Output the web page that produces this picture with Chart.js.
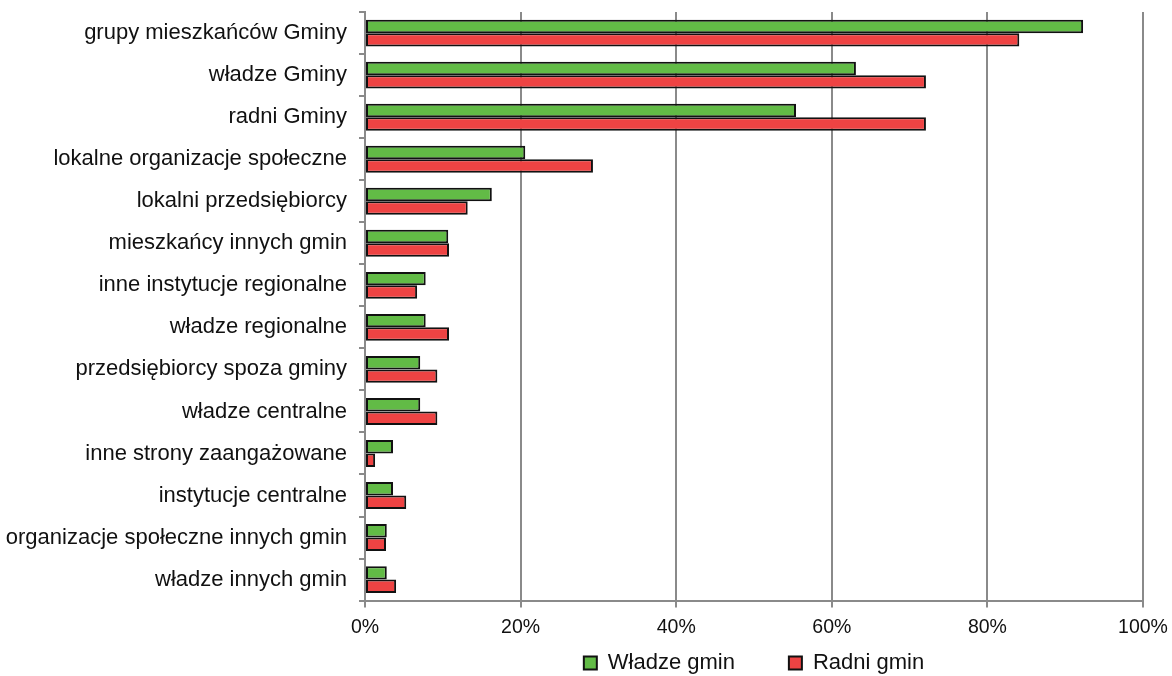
<!DOCTYPE html>
<html>
<head>
<meta charset="utf-8">
<script src="https://cdn.jsdelivr.net/npm/chart.js@4.4.1/dist/chart.umd.min.js"></script>
<style>
  html, body { margin: 0; padding: 0; background: #fff; }
  #wrap { width: 1172px; height: 676px; }
</style>
</head>
<body>
<div id="wrap"><canvas id="c" width="1172" height="676"></canvas></div>
<script>
// kategorie i wartości (%)
const categories = [
  "grupy mieszkańców Gminy",
  "władze Gminy",
  "radni Gminy",
  "lokalne organizacje społeczne",
  "lokalni przedsiębiorcy",
  "mieszkańcy innych gmin",
  "inne instytucje regionalne",
  "władze regionalne",
  "przedsiębiorcy spoza gminy",
  "władze centralne",
  "inne strony zaangażowane",
  "instytucje centralne",
  "organizacje społeczne innych gmin",
  "władze innych gmin"
];
const wladzeGmin = [92.3, 63.1, 55.4, 20.6, 16.3, 10.7, 7.8, 7.8, 7.1, 7.1, 3.6, 3.6, 2.8, 2.8];
const radniGmin  = [84.1, 72.1, 72.1, 29.3, 13.2, 10.8, 6.7, 10.8, 9.3, 9.3, 1.3, 5.3, 2.7, 4.0];
const xTicks = [0, 20, 40, 60, 80, 100];

const FONT = "'Liberation Sans', Arial, sans-serif";

new Chart(document.getElementById("c").getContext("2d"), {
    type: "bar",
    data: {
        labels: categories,
        datasets: [
            {
                label: "Władze gmin",
                data: wladzeGmin,
                backgroundColor: "#62bb46",
                borderColor: "#111",
                borderWidth: 2,
                borderSkipped: false
            },
            {
                label: "Radni gmin",
                data: radniGmin,
                backgroundColor: "#ee4343",
                borderColor: "#111",
                borderWidth: 2,
                borderSkipped: false
            }
        ]
    },
    options: {
        indexAxis: "y",
        responsive: false,
        animation: false,
        devicePixelRatio: 1,
        categoryPercentage: 0.64,
        barPercentage: 1.0,
        layout: { padding: { top: 0, right: 0, left: 0, bottom: -8 } },
        plugins: {
            legend: {
                position: "bottom",
                fullSize: false,
                labels: {
                    font: { family: FONT, size: 22, lineHeight: 1.35 },
                    color: "#111",
                    boxWidth: 13,
                    boxHeight: 13,
                    padding: 5,
                    generateLabels(chart) {
                        // odstęp między pozycjami legendy jak w oryginale
                        return chart.data.datasets.map((ds, i) => ({
                            text: i === 0 ? ds.label + "        " : ds.label,
                            fillStyle: ds.backgroundColor,
                            strokeStyle: "#111",
                            lineWidth: 2,
                            datasetIndex: i,
                            fontColor: "#111"
                        }));
                    }
                }
            },
            tooltip: { enabled: false }
        },
        scales: {
            x: {
                min: 0,
                max: 100,
                afterBuildTicks(axis) {
                    axis.ticks = xTicks.map(v => ({ value: v }));
                },
                afterFit(axis) { axis.paddingRight = 29; },
                ticks: {
                    callback: v => v + "%",
                    font: { family: FONT, size: 19.5 },
                    color: "#111",
                    padding: 8,
                    maxRotation: 0
                },
                grid: {
                    color: "#8a8a8a",
                    lineWidth: 2,
                    tickLength: 7
                },
                border: { display: true, color: "#8a8a8a", width: 2 }
            },
            y: {
                offset: true,
                afterFit(axis) { axis.width = 365; },
                ticks: {
                    font: { family: FONT, size: 22, lineHeight: 0.01 },
                    color: "#111",
                    padding: 12
                },
                grid: {
                    offset: true,
                    drawOnChartArea: false,
                    color: "#8a8a8a",
                    lineWidth: 2,
                    tickLength: 6
                },
                border: { display: true, color: "#8a8a8a", width: 2 }
            }
        }
    }
});
</script>
</body>
</html>
